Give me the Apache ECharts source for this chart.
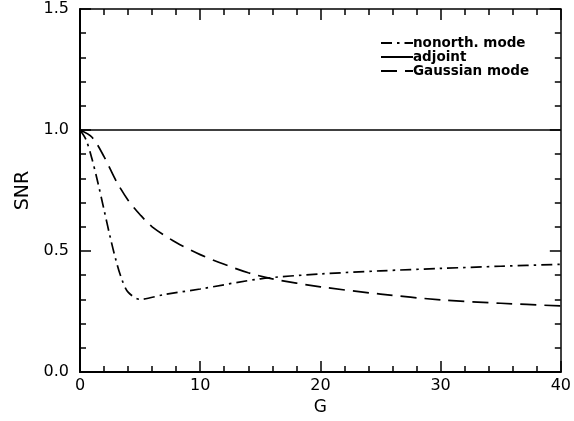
<!DOCTYPE html>
<html><head><meta charset="utf-8">
<script src="https://cdn.jsdelivr.net/npm/echarts@6/dist/echarts.min.js"></script>
<style>html,body{margin:0;padding:0;background:#fff}#c{width:574px;height:421px}</style>
</head><body><div id="c"></div>
<script>
const seriesNames = ['nonorth. mode', 'adjoint', 'Gaussian mode'];
const nonorthG   = [0, 0.5, 1, 1.5, 2, 2.5, 3, 3.5, 4, 5, 7, 10, 15, 20, 25, 30, 35, 40];
const nonorthSNR = [1.0, 0.96, 0.88, 0.78, 0.67, 0.56, 0.46, 0.38, 0.33, 0.30, 0.32, 0.343, 0.385, 0.405, 0.418, 0.428, 0.437, 0.445];
const adjointG   = [0, 40];
const adjointSNR = [1.0, 1.0];
const gaussG     = [0, 1, 2, 3, 4, 5, 6, 8, 10, 12, 14, 16, 20, 25, 30, 35, 40];
const gaussSNR   = [1.0, 0.97, 0.89, 0.79, 0.71, 0.65, 0.60, 0.535, 0.485, 0.445, 0.41, 0.385, 0.352, 0.322, 0.298, 0.284, 0.273];
const xTicks = [0, 10, 20, 30, 40];
const yTicks = [0.0, 0.5, 1.0, 1.5];

const zip = (a, b) => a.map((v, i) => [v, b[i]]);
const font = 'DejaVu Sans';
const axisCommon = {
  axisLine: { onZero: false, lineStyle: { color: '#000', width: 2 } },
  axisTick: { inside: true, length: 11, lineStyle: { color: '#000', width: 1.5 } },
  minorTick: { show: true, splitNumber: 5, length: 6, lineStyle: { color: '#000', width: 1.5 } },
  splitLine: { show: false }
};
const chart = echarts.init(document.getElementById('c'), null, { renderer: 'canvas' });
chart.setOption({
  animation: false,
  backgroundColor: '#fff',
  textStyle: { fontFamily: font },
  grid: { left: 80, right: 12, top: 9, bottom: 49 },
  legend: {
    orient: 'vertical', left: 375, top: 31, itemGap: 0, itemWidth: 32, itemHeight: 10,
    data: seriesNames,
    itemStyle: { opacity: 0 },
    textStyle: { fontFamily: font, fontSize: 13.5, fontWeight: 'bold', lineHeight: 14, color: '#000', padding: [0, 0, 0, -5] }
  },
  xAxis: [
    Object.assign({}, axisCommon, {
      type: 'value', min: 0, max: 40, interval: 10, position: 'bottom',
      name: 'G', nameLocation: 'middle', nameGap: 24,
      nameTextStyle: { fontFamily: font, fontSize: 17, color: '#000' },
      axisLabel: { fontFamily: font, fontSize: 16, color: '#000', margin: 6,
        formatter: v => xTicks.includes(v) ? String(v) : '' }
    }),
    Object.assign({}, axisCommon, {
      type: 'value', min: 0, max: 40, interval: 10, position: 'top',
      axisLine: { onZero: false, lineStyle: { color: '#000', width: 1.5 } },
      axisLabel: { show: false }
    })
  ],
  yAxis: [
    Object.assign({}, axisCommon, {
      type: 'value', min: 0, max: 1.5, interval: 0.5, position: 'left',
      name: 'SNR', nameLocation: 'middle', nameGap: 45, nameRotate: 90,
      nameTextStyle: { fontFamily: font, fontSize: 19, color: '#000' },
      axisLabel: { fontFamily: font, fontSize: 16, color: '#000', margin: 11,
        formatter: v => yTicks.some(t => Math.abs(t - v) < 1e-9) ? v.toFixed(1) : '' }
    }),
    Object.assign({}, axisCommon, {
      type: 'value', min: 0, max: 1.5, interval: 0.5, position: 'right',
      axisLine: { onZero: false, lineStyle: { color: '#000', width: 1.5 } },
      axisLabel: { show: false }
    })
  ],
  series: [
    { name: seriesNames[0], type: 'line', data: zip(nonorthG, nonorthSNR), symbol: 'none', smooth: 0.3,
      lineStyle: { color: '#000', width: 1.7, type: [11, 5, 2.5, 5] }, itemStyle: { color: '#000' } },
    { name: seriesNames[1], type: 'line', data: zip(adjointG, adjointSNR), symbol: 'none',
      lineStyle: { color: '#000', width: 1.7, type: 'solid' }, itemStyle: { color: '#000' } },
    { name: seriesNames[2], type: 'line', data: zip(gaussG, gaussSNR), symbol: 'none', smooth: 0.3,
      lineStyle: { color: '#000', width: 1.7, type: [16, 8] }, itemStyle: { color: '#000' } }
  ]
});
</script></body></html>
